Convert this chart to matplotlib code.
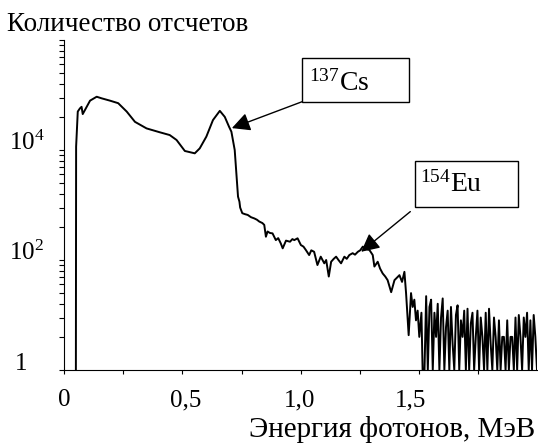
import matplotlib
matplotlib.use('Agg')
import matplotlib.pyplot as plt
import matplotlib.patches as patches
from matplotlib.transforms import ScaledTranslation
from matplotlib.ticker import FixedLocator

plt.rcParams['font.family'] = 'Liberation Serif'
plt.rcParams['mathtext.fontset'] = 'custom'
plt.rcParams['mathtext.rm'] = 'Liberation Serif'
plt.rcParams['mathtext.it'] = 'Liberation Serif:italic'

# спектр: энергия (МэВ) и число отсчетов
energy = [0.049, 0.050, 0.057, 0.066, 0.073, 0.078, 0.087, 0.109, 0.137, 0.158,
          0.193, 0.228, 0.264, 0.299, 0.348, 0.404, 0.446, 0.475, 0.510, 0.552,
          0.573, 0.601, 0.629, 0.658, 0.679, 0.697, 0.707, 0.721, 0.728, 0.735,
          0.741, 0.744, 0.753, 0.765, 0.776, 0.790, 0.804, 0.815, 0.825, 0.838,
          0.846, 0.853, 0.860, 0.870, 0.881, 0.895, 0.905, 0.916, 0.924, 0.938,
          0.955, 0.965, 0.973, 0.987, 1.001, 1.012, 1.022, 1.036, 1.045, 1.057,
          1.071, 1.085, 1.100, 1.108, 1.119, 1.129, 1.140, 1.150, 1.160, 1.171,
          1.185, 1.195, 1.206, 1.220, 1.230, 1.242, 1.252, 1.263, 1.275, 1.291,
          1.305, 1.312, 1.326, 1.336, 1.347, 1.358, 1.368, 1.383, 1.397, 1.408,
          1.418, 1.429, 1.439, 1.446, 1.457, 1.467, 1.474, 1.481, 1.488, 1.495,
          1.502, 1.511, 1.516,
          1.524, 1.531, 1.538, 1.545, 1.552, 1.559, 1.566, 1.573, 1.580, 1.587,
          1.594, 1.601, 1.608, 1.615, 1.622, 1.629, 1.636, 1.643, 1.650, 1.657,
          1.664, 1.671, 1.678, 1.685, 1.692, 1.699, 1.706, 1.713, 1.720, 1.727,
          1.734, 1.741, 1.748, 1.755, 1.762, 1.769, 1.776, 1.783, 1.790, 1.797,
          1.804, 1.811, 1.818, 1.825, 1.832, 1.839, 1.846, 1.853, 1.860, 1.867,
          1.874, 1.881, 1.888, 1.895, 1.902, 1.909, 1.916, 1.923, 1.930, 1.937,
          1.944, 1.951, 1.958, 1.965, 1.972, 1.979, 1.986, 1.993, 2.000]
counts = [1, 11500, 50000, 57000, 61000, 45000, 53000, 79000, 93000, 87000,
          79000, 71000, 50000, 32500, 24700, 21000, 18700, 15200, 9600, 8700,
          10700, 17500, 35000, 51500, 40000, 26500, 21500, 10000, 3800, 1420,
          1150, 900, 710, 680, 660, 600, 570, 540, 500, 470,
          435, 265, 330, 310, 305, 230, 250, 200, 163, 225,
          215, 240, 230, 248, 187, 175, 152, 123, 150, 141,
          81, 115, 87, 100, 50, 93, 105, 115, 100, 87,
          115, 105, 123, 133, 125, 141, 150, 175, 160, 152,
          123, 76, 93, 70, 57, 50, 43, 26, 43, 48,
          53, 40, 61, 25, 4.3, 25, 14, 19, 8, 12,
          4, 11, 1,
          1, 22, 1, 14, 19, 1, 11, 4, 16, 1,
          9, 20, 1, 6, 12, 1, 14, 3, 1, 10,
          15, 1, 8, 4, 12, 1, 13, 1, 7, 11,
          1, 4, 12, 1, 9, 4, 1, 11, 1, 13,
          3, 1, 9, 4, 1, 8, 1, 4, 4, 1,
          8, 1, 4, 4, 1, 9, 1, 10, 4, 1,
          9, 4, 11, 1, 8, 1, 10, 4, 1]

x_ticks = [0, 0.25, 0.5, 0.75, 1.0, 1.25, 1.5, 1.75]
x_labels = ['0', '', '0,5', '', '1,0', '', '1,5', '']
x_label_shift = [0, 0, 3, 0, -1, 0, -8.5, 0]   # px, подписи в оригинале сдвинуты
y_ticks = [1, 1e2, 1e4, 1e6]
y_labels = ['1', '$10^2$', '$10^4$', '']
y_label_shift = [6, 0, 0, 0]

fig = plt.figure(figsize=(5.38, 4.48), dpi=100)
ax = fig.add_axes([64.3 / 538, 1 - 370 / 448, (537 - 64.3) / 538, 330 / 448])

ax.plot(energy, counts, color='black', lw=1.4)

ax.set_yscale('log')
ax.set_xlim(0, 2.0)
ax.set_ylim(1, 1e6)

# оси как в Excel: только левая и нижняя
for s in ['top', 'right']:
    ax.spines[s].set_visible(False)
for s in ['left', 'bottom']:
    ax.spines[s].set_linewidth(0.8)

ax.set_xticks(x_ticks)
ax.set_xticklabels(x_labels, fontsize=18)
ax.tick_params(axis='x', direction='out', length=3, width=0.8, pad=11)

ax.set_yticks(y_ticks)
ax.set_yticklabels(y_labels, fontsize=18, ha='left', va='baseline')
minor = [n * n * 100 ** k for k in range(3) for n in range(2, 10)]
ax.yaxis.set_minor_locator(FixedLocator(minor))
ax.yaxis.set_minor_formatter(plt.NullFormatter())
ax.tick_params(axis='y', which='both', direction='out', length=3.6, width=0.8, pad=36)

for lab, dx in zip(ax.get_xticklabels(), x_label_shift):
    lab.set_transform(lab.get_transform() + ScaledTranslation(dx / 100, 0, fig.dpi_scale_trans))
for lab, dx in zip(ax.get_yticklabels(), y_label_shift):
    lab.set_transform(lab.get_transform() + ScaledTranslation(dx / 100, 0, fig.dpi_scale_trans))

fig.text(7 / 538, 1 - 31 / 448, 'Количество отсчетов', fontsize=19.5, va='baseline')
fig.text(535 / 538, 1 - 437 / 448, 'Энергия фотонов, МэВ', fontsize=21,
         ha='right', va='baseline')

# подписи изотопов в рамках со стрелками
arrow = dict(arrowstyle='-|>,head_length=0.55,head_width=0.28', color='black', lw=1,
             mutation_scale=20, shrinkA=0, shrinkB=0)

ax.add_patch(patches.Rectangle((0.503, 0.812), 0.227, 0.133, transform=ax.transAxes,
                               facecolor='white', edgecolor='black', lw=1, zorder=3))
ax.text(0.517, 0.848, '$^{137}$Cs', transform=ax.transAxes, fontsize=20,
        va='baseline', zorder=4)
ax.annotate('', xy=(0.709, 25000), xytext=(0.503, 0.813), textcoords='axes fraction',
            arrowprops=arrow)

ax.add_patch(patches.Rectangle((0.742, 0.493), 0.218, 0.141, transform=ax.transAxes,
                               facecolor='white', edgecolor='black', lw=1, zorder=3))
ax.text(0.752, 0.540, '$^{154}$Eu', transform=ax.transAxes, fontsize=20,
        va='baseline', zorder=4)
ax.annotate('', xy=(1.256, 141), xytext=(0.732, 0.48), textcoords='axes fraction',
            arrowprops=arrow)

fig.savefig('out.png', dpi=100)
